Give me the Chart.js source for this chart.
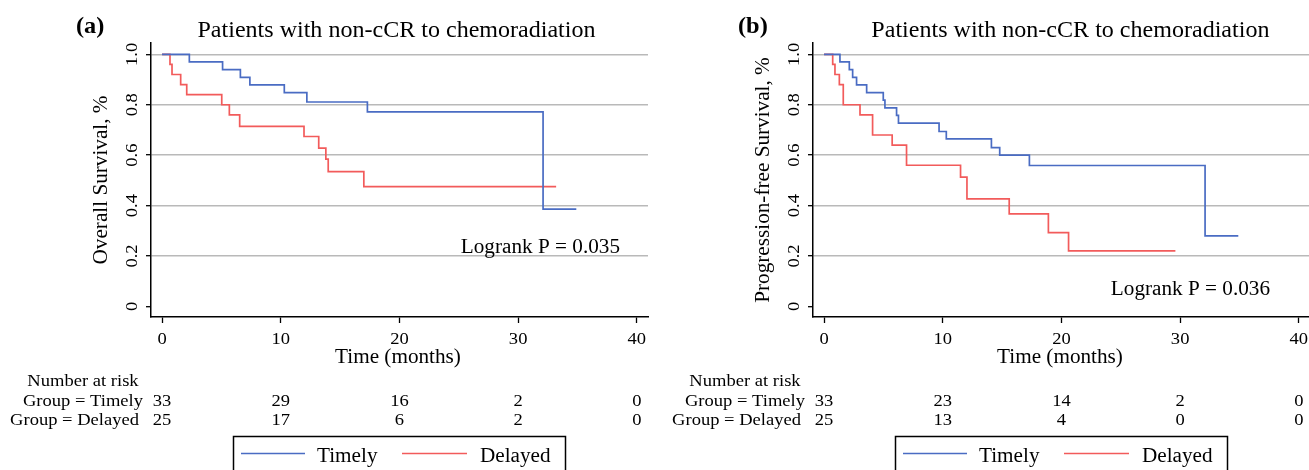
<!DOCTYPE html>
<html>
<head>
<meta charset="UTF-8">
<title>Survival by chemoradiation timing</title>
<script src="https://cdn.jsdelivr.net/npm/chart.js"></script>
<style>
    html, body { margin: 0; padding: 0; background: #fff; overflow: hidden; }
    #wrap { position: relative; width: 1309px; height: 470px; }
    canvas { position: absolute; top: 0; }
    #chartA { left: 0; }
    #chartB { left: 662px; }
</style>
</head>
<body>
<div id="wrap">
    <canvas id="chartA" width="662" height="470"></canvas>
    <canvas id="chartB" width="662" height="470"></canvas>
</div>

<script>
    // axes
    const timeTicks = [0, 10, 20, 30, 40];
    const survTicks = [0, 0.2, 0.4, 0.6, 0.8, 1.0];
    const survTickLabels = ['0', '0.2', '0.4', '0.6', '0.8', '1.0'];
    const groups = ['Timely', 'Delayed'];

    // (a) overall survival, step points (months, survival)
    const osTimelyTime = [0, 2.3, 5.1, 6.6, 7.4, 10.3, 12.2, 17.3, 32.1, 34.9];
    const osTimelySurv = [1, 0.970, 0.939, 0.909, 0.879, 0.848, 0.811, 0.772, 0.386, 0.386];
    const osDelayedTime = [0, 0.67, 0.84, 1.57, 2.08, 5.03, 5.67, 6.54, 11.96, 13.2, 13.8, 14.0, 17.0, 33.2];
    const osDelayedSurv = [1, 0.96, 0.92, 0.88, 0.84, 0.80, 0.76, 0.714, 0.674, 0.628, 0.584, 0.535, 0.475, 0.475];
    const osRiskTimely = [33, 29, 16, 2, 0];
    const osRiskDelayed = [25, 17, 6, 2, 0];

    // (b) progression-free survival
    const pfsTimelyTime = [0, 1.34, 2.13, 2.41, 2.74, 3.59, 4.99, 5.13, 6.11, 6.27, 9.69, 10.3, 14.1, 14.8, 17.3, 32.1, 34.9];
    const pfsTimelySurv = [1, 0.970, 0.939, 0.909, 0.879, 0.848, 0.818, 0.788, 0.758, 0.727, 0.694, 0.665, 0.630, 0.600, 0.559, 0.280, 0.280];
    const pfsDelayedTime = [0, 0.73, 0.92, 1.29, 1.62, 3.03, 4.09, 5.74, 6.95, 11.5, 12.04, 15.6, 18.9, 20.6, 29.6];
    const pfsDelayedSurv = [1, 0.96, 0.92, 0.88, 0.80, 0.76, 0.68, 0.64, 0.56, 0.513, 0.427, 0.367, 0.293, 0.220, 0.220];
    const pfsRiskTimely = [33, 23, 14, 2, 0];
    const pfsRiskDelayed = [25, 13, 4, 0, 0];

    const BLUE = '#4a6cc3';
    const RED = '#f25b5b';
    const SERIF = '"Liberation Serif", "Times New Roman", serif';
    const STRETCH = 1.06;

    function txt(ctx, s, x, y, size, o) {
        o = o || {};
        ctx.save();
        ctx.translate(x, y);
        if (o.rot) ctx.rotate(-Math.PI / 2);
        ctx.scale(STRETCH, 1);
        ctx.font = (o.bold ? 'bold ' : '') + size + 'px ' + SERIF;
        ctx.textAlign = o.align || 'center';
        ctx.textBaseline = o.base || 'alphabetic';
        ctx.fillStyle = '#000';
        ctx.fillText(s, 0, 0);
        ctx.restore();
    }

    function steps(t, s) {
        return t.map((v, i) => ({ x: v, y: s[i] }));
    }

    function makePanel(id, p) {
        const textPlugin = {
            id: 'kmText',
            afterDraw(chart) {
                const ctx = chart.ctx;
                const xs = chart.scales.x, ys = chart.scales.y;
                const area = chart.chartArea;

                txt(ctx, p.label, 76, 32.5, 23, { bold: true, align: 'left' });
                txt(ctx, 'Patients with non-cCR to chemoradiation', p.titleX, 36.7, 22.7);

                survTicks.forEach((v, i) => {
                    txt(ctx, survTickLabels[i], 137, ys.getPixelForValue(v), 17.5, { rot: true });
                });
                txt(ctx, p.yTitle, 107.3, (area.top + area.bottom) / 2, 20, { rot: true });

                timeTicks.forEach(v => {
                    txt(ctx, String(v), xs.getPixelForValue(v), 344, 17.5);
                });
                txt(ctx, 'Time (months)', (area.left + area.right) / 2 - 1.5, 363.3, 20);

                txt(ctx, p.logrank, xs.getPixelForValue(p.logrankAt[0]), ys.getPixelForValue(p.logrankAt[1]), 20, { align: 'right' });

                // number at risk table
                txt(ctx, 'Number at risk', 83, 386, 17.5);
                txt(ctx, 'Group = ' + groups[0], 143, 406, 17.5, { align: 'right' });
                txt(ctx, 'Group = ' + groups[1], 139, 425, 17.5, { align: 'right' });
                timeTicks.forEach((v, i) => {
                    const x = xs.getPixelForValue(v);
                    txt(ctx, String(p.riskTimely[i]), x, 406, 17.5);
                    txt(ctx, String(p.riskDelayed[i]), x, 425, 17.5);
                });

                // legend box
                ctx.save();
                ctx.strokeStyle = '#000';
                ctx.lineWidth = 1.5;
                ctx.strokeRect(233.5, 436.5, 332, 60);
                ctx.lineWidth = 1.6;
                ctx.strokeStyle = BLUE;
                ctx.beginPath(); ctx.moveTo(241, 453.5); ctx.lineTo(305, 453.5); ctx.stroke();
                ctx.strokeStyle = RED;
                ctx.beginPath(); ctx.moveTo(402, 453.5); ctx.lineTo(467, 453.5); ctx.stroke();
                ctx.restore();
                txt(ctx, groups[0], 317, 462, 20, { align: 'left' });
                txt(ctx, groups[1], 480, 462, 20, { align: 'left' });
            }
        };

        return new Chart(document.getElementById(id).getContext('2d'), {
            type: 'line',
            data: {
                datasets: [{
                    label: groups[0],
                    data: steps(p.timelyTime, p.timelySurv),
                    borderColor: BLUE,
                    borderWidth: 1.7,
                    stepped: 'before',
                    pointRadius: 0,
                    fill: false
                }, {
                    label: groups[1],
                    data: steps(p.delayedTime, p.delayedSurv),
                    borderColor: RED,
                    borderWidth: 1.7,
                    stepped: 'before',
                    pointRadius: 0,
                    fill: false
                }]
            },
            options: {
                responsive: false,
                animation: false,
                layout: { padding: { left: 0, top: 43, right: 14, bottom: 153 } },
                plugins: {
                    legend: { display: false },
                    tooltip: { enabled: false }
                },
                scales: {
                    x: {
                        type: 'linear',
                        min: -0.93,
                        max: 40.94,
                        afterBuildTicks: s => { s.ticks = timeTicks.map(v => ({ value: v })); },
                        afterFit: s => { s.height = 0; },
                        ticks: { display: false },
                        grid: { drawOnChartArea: false, drawTicks: true, tickLength: 6, tickColor: '#000', tickWidth: 1.3 },
                        border: { color: '#000', width: 1.5 }
                    },
                    y: {
                        type: 'linear',
                        min: -0.042,
                        max: 1.045,
                        afterBuildTicks: s => { s.ticks = survTicks.map(v => ({ value: v })); },
                        afterFit: s => { s.width = 151; },
                        ticks: { display: false },
                        grid: {
                            color: c => (c.tick && c.tick.value === 0) ? 'rgba(0,0,0,0)' : '#b9b9b9',
                            lineWidth: 1.4,
                            tickLength: 5,
                            tickColor: '#000',
                            tickWidth: 1.3
                        },
                        border: { color: '#000', width: 1.5 }
                    }
                }
            },
            plugins: [textPlugin]
        });
    }

    makePanel('chartA', {
        label: '(a)',
        titleX: 396.5,
        yTitle: 'Overall Survival, %',
        logrank: 'Logrank P = 0.035',
        logrankAt: [38.58, 0.211],
        timelyTime: osTimelyTime, timelySurv: osTimelySurv,
        delayedTime: osDelayedTime, delayedSurv: osDelayedSurv,
        riskTimely: osRiskTimely, riskDelayed: osRiskDelayed
    });

    makePanel('chartB', {
        label: '(b)',
        titleX: 408.4,
        yTitle: 'Progression-free Survival, %',
        logrank: 'Logrank P = 0.036',
        logrankAt: [37.57, 0.046],
        timelyTime: pfsTimelyTime, timelySurv: pfsTimelySurv,
        delayedTime: pfsDelayedTime, delayedSurv: pfsDelayedSurv,
        riskTimely: pfsRiskTimely, riskDelayed: pfsRiskDelayed
    });
</script>
</body>
</html>
